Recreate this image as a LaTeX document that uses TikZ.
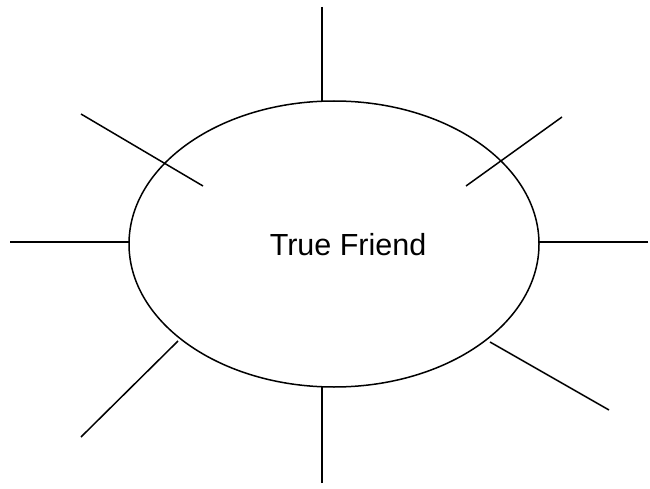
\documentclass[tikz,border=0pt]{standalone}
\usepackage{fontspec}
\setmainfont{Liberation Sans}
\usetikzlibrary{shapes.geometric}
\tikzset{
	centrenode/.style={
			ellipse,
			draw=black,
			line width=1.5pt,
			minimum width=410pt,
			minimum height=286pt,
			inner sep=0pt
		},
	textnode/.style={
			draw=none,
			inner sep=0pt,
			font=\fontsize{30.5}{36}\selectfont
		},
	rayline/.style={
			draw=black,
			line width=1.5pt
		}
}
\begin{document}
\begin{tikzpicture}[x=1pt,y=-1pt]
\useasboundingbox (0,0) rectangle (650,489);
\node[centrenode] (friend) at (334,244) {};
\node[textnode] (title) at (348,245) {True Friend};

% outer ends of the rays
\coordinate (nT) at (322,7);
\coordinate (nTR) at (562,117);
\coordinate (nR) at (648,242);
\coordinate (nBR) at (609,410);
\coordinate (nB) at (322,483);
\coordinate (nBL) at (81,437);
\coordinate (nL) at (10,242);
\coordinate (nTL) at (81,114);

% inner ends
\coordinate (iT) at (322,101);
\coordinate (iTR) at (466,186);
\coordinate (iR) at (539,242);
\coordinate (iBR) at (490,342);
\coordinate (iB) at (322,387);
\coordinate (iBL) at (178,341);
\coordinate (iL) at (129,242);
\coordinate (iTL) at (203,186);

\foreach \r in {T,TR,R,BR,B,BL,L,TL}
	\draw[rayline] (n\r) -- (i\r);

\end{tikzpicture}
\end{document}
